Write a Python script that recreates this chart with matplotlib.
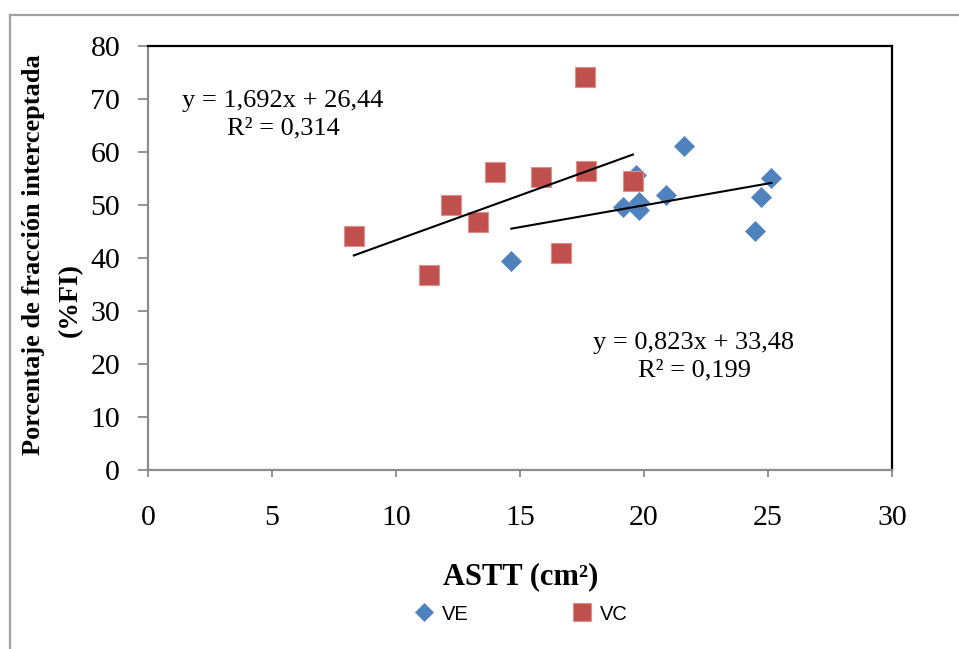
import matplotlib
matplotlib.use("Agg")
import matplotlib.pyplot as plt
from matplotlib.lines import Line2D
import numpy as np

# ---- data ----
ve_x = [14.65, 21.60, 19.68, 19.14, 19.79, 19.81, 20.89, 25.14, 24.71, 24.49]
ve_y = [39.5, 61.2, 55.7, 49.7, 50.6, 49.1, 51.9, 55.0, 51.6, 45.0]
vc_x = [8.30, 11.34, 12.23, 13.30, 13.99, 15.84, 17.61, 17.68, 16.65, 19.55]
vc_y = [44.2, 36.8, 50.0, 46.7, 56.2, 55.3, 74.1, 56.5, 40.9, 54.5]
ve_slope, ve_intercept = 0.823, 33.48
vc_slope, vc_intercept = 1.692, 26.44
ve_eq = "y = 0,823x + 33,48\nR² = 0,199"
vc_eq = "y = 1,692x + 26,44\nR² = 0,314"
x_ticks = [0, 5, 10, 15, 20, 25, 30]
y_ticks = [0, 10, 20, 30, 40, 50, 60, 70, 80]
series_names = ["VE", "VC"]

W, H = 959, 649
fig = plt.figure(figsize=(W / 100, H / 100), dpi=100)
serif = "Liberation Serif"

ax = fig.add_axes([148 / W, 1 - 470 / H, (892 - 148) / W, (470 - 46) / H])
ax.set_xlim(0, 30)
ax.set_ylim(0, 80)

blue = "#4F81BD"
red = "#C0504D"

ax.plot(ve_x, ve_y, linestyle="none", marker="D", markersize=10.3,
        markerfacecolor=blue, markeredgecolor="#5B8BC6", markeredgewidth=0.6,
        label=series_names[0], zorder=3)
ax.plot(vc_x, vc_y, linestyle="none", marker="s", markersize=14.2,
        markerfacecolor=red, markeredgecolor="#E08F8C", markeredgewidth=0.8,
        label=series_names[1], zorder=4)

# trend lines
xv = np.array([min(ve_x), max(ve_x)])
ax.plot(xv, ve_slope * xv + ve_intercept, color="black", lw=1.5, zorder=5)
xc = np.array([min(vc_x), max(vc_x)])
ax.plot(xc, vc_slope * xc + vc_intercept, color="black", lw=1.5, zorder=5)

# spines
for s in ["top", "right"]:
    ax.spines[s].set_color("black")
    ax.spines[s].set_linewidth(1.6)
for s in ["left", "bottom"]:
    ax.spines[s].set_color("#8C8C8C")
    ax.spines[s].set_linewidth(1.6)

ax.set_xticks(x_ticks)
ax.set_yticks(y_ticks)
ax.set_xticklabels([str(t) for t in x_ticks], family=serif, fontsize=21.5)
ax.set_yticklabels([str(t) for t in y_ticks], family=serif, fontsize=21.5)
ax.tick_params(axis="x", direction="out", length=5, width=1.3, color="#8C8C8C", pad=20)
ax.tick_params(axis="y", direction="out", length=7, width=1.3, color="#8C8C8C", pad=13)

# equations
fig.text(283 / W, 1 - 115 / H, vc_eq, family=serif, fontsize=19, ha="center",
         va="center", linespacing=1.3)
fig.text(694 / W, 1 - 357 / H, ve_eq, family=serif, fontsize=19, ha="center",
         va="center", linespacing=1.3)

# axis labels
fig.text(521 / W, 1 - 577 / H, "ASTT (cm²)", family=serif, fontsize=22,
         fontweight="bold", ha="center", va="center")
fig.text(34 / W, 1 - 255 / H, "Porcentaje de fracción interceptada", family=serif,
         fontsize=19, fontweight="bold", rotation=90, ha="center", va="center")
fig.text(70 / W, 1 - 300 / H, "(%FI)", family=serif, fontsize=20,
         fontweight="bold", rotation=90, ha="center", va="center")

# legend
leg = fig.legend(loc="center", bbox_to_anchor=(521 / W, 1 - 614 / H), ncol=2,
                 frameon=False, prop={"family": "Liberation Sans", "size": 14.5},
                 handletextpad=0.4, columnspacing=5.1, handlelength=1.0,
                 markerscale=0.9)

# outer border (top and left visible)
fig.add_artist(Line2D([10 / W, 10 / W], [0, 1 - 14.5 / H], transform=fig.transFigure,
                      color="#A0A0A0", lw=1.6))
fig.add_artist(Line2D([10 / W, 1], [1 - 14.5 / H, 1 - 14.5 / H], transform=fig.transFigure,
                      color="#A0A0A0", lw=1.6))

fig.savefig("out.png", dpi=100)
